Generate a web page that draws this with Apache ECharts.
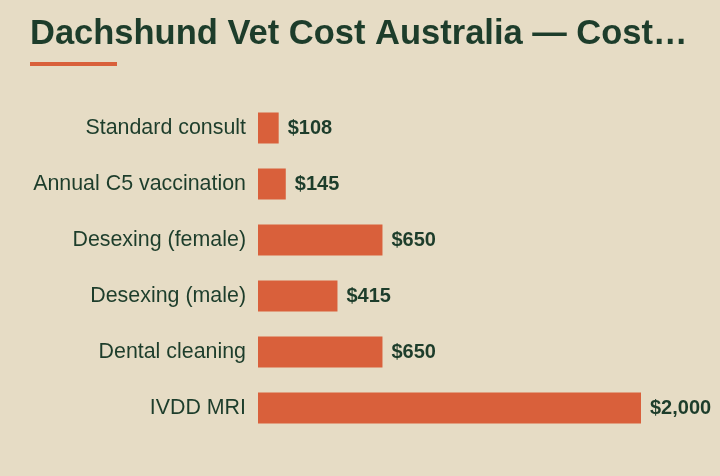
<!DOCTYPE html>
<html>
<head>
<meta charset="utf-8">
<script src="https://cdn.jsdelivr.net/npm/echarts@6/dist/echarts.min.js"></script>
<style>
  html, body { margin: 0; padding: 0; background: #e6dcc5; }
  #chart { width: 720px; height: 476px; }
</style>
</head>
<body>
<div id="chart"></div>
<script>
// categories, top to bottom
const categories = ['Standard consult', 'Annual C5 vaccination', 'Desexing (female)', 'Desexing (male)', 'Dental cleaning', 'IVDD MRI'];
const costs = [108, 145, 650, 415, 650, 2000];

const chart = echarts.init(document.getElementById('chart'));

chart.setOption({
  backgroundColor: '#e6dcc5',
  title: {
    text: 'Dachshund Vet Cost Australia — Cost…',
    left: 30,
    top: 17,
    padding: 0,
    textStyle: {
      fontFamily: 'Liberation Sans',
      fontSize: 34.5,
      fontWeight: 'bold',
      color: '#1d3d2b'
    }
  },
  graphic: [{
    type: 'rect',
    left: 30,
    top: 62,
    shape: { width: 87, height: 4 },
    style: { fill: '#d9603b' }
  }],
  grid: {
    left: 258,
    right: 79,
    top: 100,
    bottom: 40
  },
  xAxis: {
    type: 'value',
    min: 0,
    max: 2000,
    show: false
  },
  yAxis: {
    type: 'category',
    data: categories,
    inverse: true,
    axisLine: { show: false },
    axisTick: { show: false },
    axisLabel: {
      margin: 12,
      fontFamily: 'Liberation Sans',
      fontSize: 21.4,
      color: '#1d3d2b'
    }
  },
  series: [{
    type: 'bar',
    data: costs,
    barWidth: 31,
    itemStyle: { color: '#d9603b' },
    label: {
      show: true,
      position: 'right',
      distance: 9,
      fontFamily: 'Liberation Sans',
      fontSize: 20,
      fontWeight: 'bold',
      color: '#1d3d2b',
      formatter: p => '$' + p.value.toLocaleString('en-US')
    }
  }]
});
</script>
</body>
</html>
